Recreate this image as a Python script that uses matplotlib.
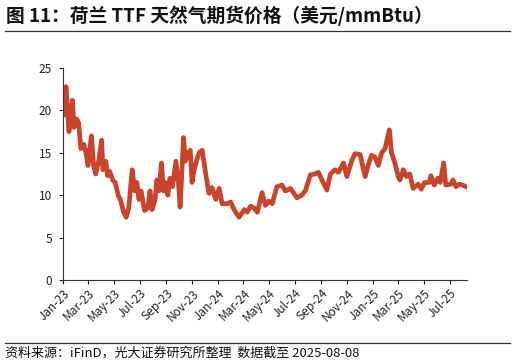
import matplotlib
matplotlib.use("Agg")
import matplotlib.pyplot as plt
import pandas as pd

plt.rcParams['font.family'] = ['Noto Sans CJK SC', 'DejaVu Sans']

dates = [
    "2023-01-02", "2023-01-08", "2023-01-15", "2023-01-19", "2023-01-23", "2023-01-27",
    "2023-02-02", "2023-02-07", "2023-02-12", "2023-02-19", "2023-02-24", "2023-03-01",
    "2023-03-09", "2023-03-14", "2023-03-19", "2023-03-26", "2023-04-02", "2023-04-05",
    "2023-04-12", "2023-04-16", "2023-04-21", "2023-04-29", "2023-05-04", "2023-05-11",
    "2023-05-16", "2023-05-24", "2023-05-30", "2023-06-05", "2023-06-13", "2023-06-19",
    "2023-06-24", "2023-06-29", "2023-07-04", "2023-07-12", "2023-07-20", "2023-07-25",
    "2023-07-30", "2023-08-06", "2023-08-10", "2023-08-15", "2023-08-21", "2023-08-26",
    "2023-08-30", "2023-09-05", "2023-09-10", "2023-09-16", "2023-09-24", "2023-09-30",
    "2023-10-04", "2023-10-12", "2023-10-16", "2023-10-22", "2023-10-28", "2023-11-01",
    "2023-11-06", "2023-11-16", "2023-11-18", "2023-11-25", "2023-12-04", "2023-12-11",
    "2023-12-18", "2023-12-27", "2024-01-04", "2024-01-11", "2024-01-23", "2024-01-31",
    "2024-02-08", "2024-02-20", "2024-03-03", "2024-03-10", "2024-03-18", "2024-03-26",
    "2024-04-03", "2024-04-14", "2024-04-22", "2024-04-30", "2024-05-08", "2024-05-19",
    "2024-05-31", "2024-06-08", "2024-06-20", "2024-07-05", "2024-07-17", "2024-07-25",
    "2024-08-06", "2024-08-17", "2024-08-25", "2024-09-02", "2024-09-14", "2024-09-22",
    "2024-10-03", "2024-10-11", "2024-10-23", "2024-10-31", "2024-11-11", "2024-11-19",
    "2024-12-01", "2024-12-13", "2024-12-20", "2024-12-28", "2025-01-05", "2025-01-13",
    "2025-01-21", "2025-01-29", "2025-02-01", "2025-02-08", "2025-02-13", "2025-02-21",
    "2025-03-01", "2025-03-05", "2025-03-13", "2025-03-20", "2025-03-28", "2025-04-05",
    "2025-04-17", "2025-04-24", "2025-05-02", "2025-05-13", "2025-05-17", "2025-05-25",
    "2025-06-02", "2025-06-08", "2025-06-16", "2025-06-21", "2025-07-03", "2025-07-08",
    "2025-07-15", "2025-07-23", "2025-07-30", "2025-08-08",
]
prices = [
    19.5, 22.8, 17.5, 19.0, 21.2, 18.0,
    19.0, 18.5, 15.5, 16.0, 15.0, 13.5,
    17.0, 13.5, 12.5, 14.0, 16.5, 13.0,
    14.0, 12.3, 12.8, 11.7, 11.5, 10.0,
    9.5, 8.0, 7.4, 8.5, 13.0, 10.5,
    11.5, 9.5, 10.5, 8.2, 8.5, 10.5,
    8.3, 9.5, 11.8, 10.5, 13.8, 10.5,
    11.5, 10.0, 12.0, 11.0, 14.0, 11.5,
    8.6, 16.8, 14.0, 15.0, 15.3, 11.5,
    13.0, 14.8, 15.0, 15.3, 12.3, 10.2,
    10.9, 9.5, 10.8, 9.0, 9.0, 9.2,
    8.3, 7.4, 8.3, 8.0, 8.7, 8.5,
    8.0, 10.3, 8.8, 9.3, 9.0, 11.0,
    11.2, 10.5, 10.8, 9.7, 10.0, 10.5,
    12.4, 12.5, 12.7, 11.8, 10.6, 12.5,
    13.0, 12.7, 13.8, 12.2, 14.0, 14.9,
    14.8, 12.2, 13.5, 14.7, 14.5, 13.5,
    15.0, 15.5, 16.2, 17.7, 15.0, 13.8,
    12.2, 11.8, 13.0, 12.2, 12.5, 10.8,
    11.3, 10.7, 11.5, 11.5, 12.3, 11.2,
    12.0, 11.5, 13.8, 11.2, 11.3, 11.8,
    11.0, 11.3, 11.2, 11.0,
]
tick_labels = ["Jan-23", "Mar-23", "May-23", "Jul-23", "Sep-23", "Nov-23",
               "Jan-24", "Mar-24", "May-24", "Jul-24", "Sep-24", "Nov-24",
               "Jan-25", "Mar-25", "May-25", "Jul-25"]
y_ticks = [0, 5, 10, 15, 20, 25]

title = "图 11：荷兰 TTF 天然气期货价格（美元/mmBtu）"
source = "资料来源：iFinD，光大证券研究所整理  数据截至 2025-08-08"

dt = pd.to_datetime(dates)
tick_dates = pd.to_datetime(tick_labels, format="%b-%y")

W, H = 516, 364
fig = plt.figure(figsize=(W / 100, H / 100), dpi=100)
ax = fig.add_axes([63 / W, 1 - 280 / H, (467 - 63) / W, (280 - 68) / H])

ax.plot(dt, prices, color="#C8442A", linewidth=3.4, solid_joinstyle="round")

ax.set_ylim(0, 25)
ax.set_yticks(y_ticks)
ax.set_xlim(pd.Timestamp("2023-01-01"), pd.Timestamp("2025-08-10"))
ax.set_xticks(tick_dates)
ax.set_xticklabels(tick_labels, rotation=45, ha="right", rotation_mode="anchor")

for s in ["top", "right"]:
    ax.spines[s].set_visible(False)
for s in ["left", "bottom"]:
    ax.spines[s].set_color("#333333")
    ax.spines[s].set_linewidth(0.8)
ax.tick_params(axis="both", labelsize=8.5, colors="#222222", length=3, width=0.8)
ax.tick_params(axis="x", pad=2)
ax.tick_params(axis="y", pad=5)

fig.text(6 / W, 1 - 16 / H, title, fontsize=13.5, fontweight="bold",
         ha="left", va="center", color="#111111")
fig.add_artist(plt.Line2D([5 / W, 510 / W], [1 - 31 / H, 1 - 31 / H],
                          color="#333333", linewidth=0.9))
fig.add_artist(plt.Line2D([5 / W, 510 / W], [1 - 343 / H, 1 - 343 / H],
                          color="#333333", linewidth=0.9))
fig.text(5 / W, 1 - 353 / H, source, fontsize=9.4, ha="left", va="center",
         color="#111111")

fig.savefig("out.png", dpi=100)
